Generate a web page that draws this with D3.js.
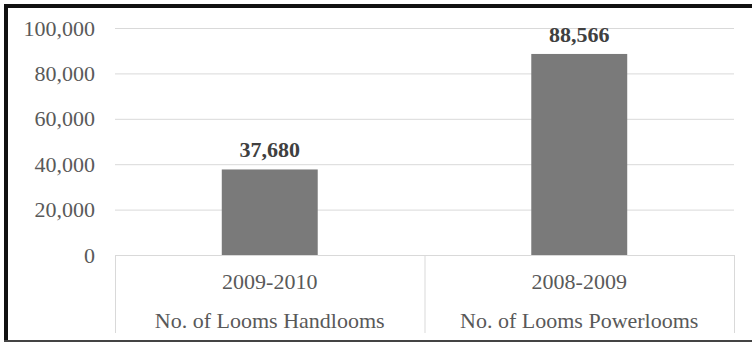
<!DOCTYPE html>
<html>
<head>
<meta charset="utf-8">
<script src="https://cdn.jsdelivr.net/npm/d3@7"></script>
<style>
html,body{margin:0;padding:0;background:#fff;}
svg{display:block;}
</style>
</head>
<body>
<svg id="chart" width="752" height="342"></svg>
<script>
const years = ["2009-2010", "2008-2009"];
const categories = ["No. of Looms Handlooms", "No. of Looms Powerlooms"];
const values = [37680, 88566];
const yTicks = [0, 20000, 40000, 60000, 80000, 100000];

const svg = d3.select("#chart");
const W = 752, H = 342;
const m = {left: 115, right: 18, top: 28, bottom: 87};
const x0 = m.left, x1 = W - m.right, yTop = m.top, yBot = H - m.bottom;
const font = "'Liberation Serif','Times New Roman',serif";

const x = d3.scaleBand().domain(d3.range(values.length)).range([x0, x1]).paddingInner(0).paddingOuter(0);
const y = d3.scaleLinear().domain([0, 100000]).range([yBot, yTop]);

// gridlines
svg.append("g").selectAll("line").data(yTicks.filter(d => d > 0)).join("line")
  .attr("x1", x0).attr("x2", x1)
  .attr("y1", d => y(d) + 0.5).attr("y2", d => y(d) + 0.5)
  .attr("stroke", "#d9d9d9").attr("stroke-width", 1);

// y axis labels
const yAxis = d3.axisLeft(y).tickValues(yTicks).tickSize(0).tickPadding(20)
  .tickFormat(d3.format(","));
const gy = svg.append("g").attr("transform", `translate(${x0},0)`).call(yAxis);
gy.select(".domain").remove();
gy.selectAll("text").attr("font-family", font).attr("font-size", 22)
  .attr("fill", "#595959").attr("dy", "0.32em");

// bars
const bw = x.bandwidth() * 0.31;
svg.append("g").selectAll("rect").data(values).join("rect")
  .attr("x", (d, i) => x(i) + x.bandwidth() / 2 - bw / 2)
  .attr("width", bw)
  .attr("y", d => y(d))
  .attr("height", d => y(0) - y(d))
  .attr("fill", "#7a7a7a");

// value labels
svg.append("g").selectAll("text").data(values).join("text")
  .attr("x", (d, i) => x(i) + x.bandwidth() / 2)
  .attr("y", d => y(d) - 12)
  .attr("text-anchor", "middle")
  .attr("font-family", font).attr("font-size", 22).attr("font-weight", "bold")
  .attr("fill", "#404040")
  .text(d => d3.format(",")(d));

// category axis: baseline and separators
const axisG = svg.append("g");
axisG.append("line").attr("x1", x0).attr("x2", x1)
  .attr("y1", yBot + 0.5).attr("y2", yBot + 0.5)
  .attr("stroke", "#d9d9d9");
const seps = d3.range(values.length + 1).map(i => i < values.length ? x(i) : x1);
axisG.selectAll("line.sep").data(seps).join("line").attr("class", "sep")
  .attr("x1", d => d + 0.5).attr("x2", d => d + 0.5)
  .attr("y1", yBot).attr("y2", 333)
  .attr("stroke", "#d9d9d9");

axisG.selectAll("text.yr").data(years).join("text").attr("class", "yr")
  .attr("x", (d, i) => x(i) + x.bandwidth() / 2)
  .attr("y", 289)
  .attr("text-anchor", "middle")
  .attr("font-family", font).attr("font-size", 22).attr("fill", "#595959")
  .text(d => d);
axisG.selectAll("text.cat").data(categories).join("text").attr("class", "cat")
  .attr("x", (d, i) => x(i) + x.bandwidth() / 2)
  .attr("y", 328)
  .attr("text-anchor", "middle")
  .attr("font-family", font).attr("font-size", 22).attr("fill", "#595959")
  .text(d => d);

// frame
svg.append("rect").attr("x", 4).attr("y", 4).attr("width", W - 4).attr("height", 4).attr("fill", "#111");
svg.append("rect").attr("x", 4).attr("y", 4).attr("width", 4).attr("height", H - 4).attr("fill", "#111");
svg.append("rect").attr("x", 4).attr("y", 340).attr("width", W - 4).attr("height", 2).attr("fill", "#444");
</script>
</body>
</html>
